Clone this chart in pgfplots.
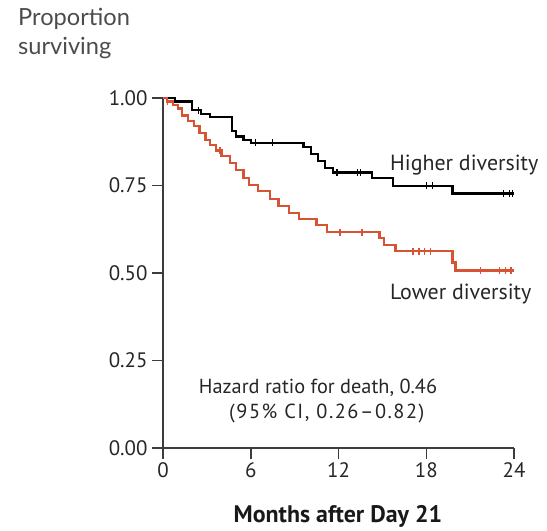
\documentclass[border=0pt]{standalone}
\usepackage{pgfplots}
\pgfplotsset{compat=1.18}
\usepackage{fontspec}
\setmainfont{PT Sans}
\newfontfamily\propfont{Lato}
\definecolor{kmred}{RGB}{214,84,52}
\definecolor{axgray}{RGB}{60,60,60}
\begin{document}
\begin{tikzpicture}[x=1bp,y=1bp]
\path[use as bounding box] (0,0) rectangle (547,531);
\begin{axis}[
  at={(163bp,83bp)}, anchor=south west,
  scale only axis, width=351bp, height=350bp,
  xmin=0, xmax=24, ymin=0, ymax=1,
  axis lines*=left,
  axis line style={line width=1.8bp, color=axgray},
  xtick={0,6,12,18,24}, ytick={0,0.25,0.5,0.75,1},
  tick align=outside, major tick length=11bp,
  tick style={line width=1.5bp, color=axgray},
  yticklabel style={/pgf/number format/fixed, /pgf/number format/fixed zerofill, /pgf/number format/precision=2, xshift=-1bp},
  /pgf/number format/assume math mode=true,
  ticklabel style={font=\fontsize{21}{23}\selectfont, text=black!85},
  clip=false,
]
\addplot[black, line width=2.2bp, const plot] coordinates {
(0,1.00) (0.8,0.99) (2.0,0.965) (2.6,0.955) (3.2,0.945) (4.7,0.905) (5.0,0.89) (5.5,0.88) (6.0,0.872)
(9.6,0.86) (10.1,0.84) (10.6,0.82) (11.1,0.80) (11.6,0.787) (14.3,0.771) (15.7,0.749) (19.8,0.727) (24,0.727)};
\addplot[black, only marks, mark=|, mark size=3.5bp, line width=1.2bp] coordinates {
(2.4,0.965) (6.3,0.872) (7.5,0.872) (11.9,0.787) (13.3,0.787) (13.5,0.787) (18.0,0.749) (18.4,0.749) (23.3,0.727) (23.7,0.727) (23.9,0.727)};
\addplot[kmred, line width=2.2bp, const plot] coordinates {
(0,1.00) (0.3,0.99) (0.7,0.98) (1.0,0.97) (1.3,0.95) (1.7,0.935) (2.1,0.92) (2.5,0.90) (2.9,0.88) (3.2,0.865)
(3.6,0.85) (4.0,0.835) (4.6,0.815) (5.0,0.795) (5.5,0.772) (5.9,0.752) (6.5,0.735) (7.3,0.712)
(7.9,0.692) (8.6,0.672) (9.3,0.655) (10.5,0.637) (11.2,0.617) (14.8,0.60) (15.1,0.58) (15.9,0.562)
(19.8,0.53) (20.0,0.507) (24,0.507)};
\addplot[kmred, only marks, mark=|, mark size=3.5bp, line width=1.2bp] coordinates {
(0.3,0.99) (3.9,0.85) (12.1,0.617) (13.6,0.617) (17.1,0.562) (17.5,0.562) (17.9,0.562) (18.3,0.562) (21.7,0.507) (23.0,0.507) (23.4,0.507) (23.8,0.507)};
\node[anchor=base west, inner sep=0pt, font=\fontsize{22}{25}\selectfont, text=black!85] at (axis cs:15.52,0.794) {Higher diversity};
\node[anchor=base west, inner sep=0pt, font=\fontsize{22}{25}\selectfont, text=black!85] at (axis cs:15.52,0.423) {Lower diversity};
\node[anchor=base, inner sep=0pt, font=\fontsize{20.4}{24}\selectfont, text=black!85] at (axis cs:10.6,0.157) {Hazard ratio for death, 0.46};
\node[anchor=base, inner sep=0pt, font=\fontsize{20.4}{24}\selectfont\addfontfeature{LetterSpace=7.5}, text=black!85] at (axis cs:11.2,0.083) {(95\% CI, 0.26–0.82)};
\end{axis}
\node[anchor=base, inner sep=0pt, font=\fontsize{24}{28}\selectfont\bfseries, text=black!90] at (338,8) {Months after Day 21};
\node[anchor=base west, font=\propfont\fontsize{23.7}{28}\selectfont, text=black!70, inner sep=0pt] at (18,505) {Proportion};
\node[anchor=base west, font=\propfont\fontsize{23.7}{28}\selectfont, text=black!70, inner sep=0pt] at (18,476) {surviving};
\end{tikzpicture}
\end{document}
